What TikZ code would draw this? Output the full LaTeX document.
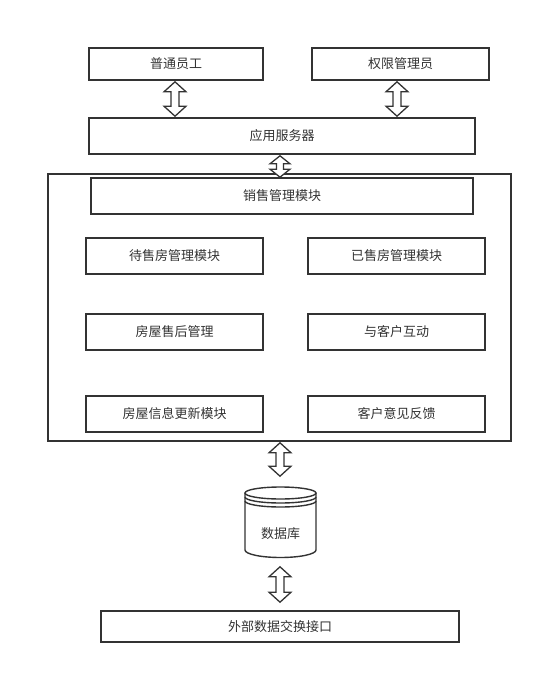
\documentclass[tikz,border=0pt]{standalone}
\usepackage{fontspec}
\newfontfamily\cjkfont{Noto Sans CJK SC}
\usetikzlibrary{calc}
\definecolor{ink}{HTML}{333333}
\tikzset{
  box/.style={draw=ink, line width=1.6pt, rectangle, inner sep=0pt,
    text=ink, font=\cjkfont\fontsize{13}{15}\selectfont},
  frame/.style={draw=ink, line width=1.6pt, rectangle, inner sep=0pt},
  blockarrow/.style={draw=ink, line width=1.3pt, fill=white, line join=miter},
  cyl/.style={draw=ink, line width=1.4pt}
}
% vertical double-headed block arrow between two tip points
% #1 top tip, #2 bottom tip, #3 half head width, #4 half shaft width, #5 head length
\newcommand\vblockarrow[5]{%
  \draw[blockarrow] let \p1=(#1), \p2=(#2) in
    (\x1,\y1) -- (\x1+#3,\y1-#5) -- (\x1+#4,\y1-#5) -- (\x1+#4,\y2+#5)
    -- (\x1+#3,\y2+#5) -- (\x1,\y2) -- (\x1-#3,\y2+#5) -- (\x1-#4,\y2+#5)
    -- (\x1-#4,\y1-#5) -- (\x1-#3,\y1-#5) -- cycle;}
\begin{document}
\begin{tikzpicture}[x=1pt,y=-1pt]
\useasboundingbox (0,0) rectangle (543,674);
% users
\node[box, minimum width=174pt, minimum height=32pt] (staff) at (176,64) {普通员工};
\node[box, minimum width=177pt, minimum height=32pt] (admin) at (400.5,64) {权限管理员};
% application server
\node[box, minimum width=386pt, minimum height=36pt] (server) at (282,136) {应用服务器};
% sales management container
\node[frame, minimum width=463pt, minimum height=267pt] (outer) at (279.5,307.5) {};
\node[box, minimum width=382pt, minimum height=36pt] (sales) at (282,196) {销售管理模块};
\node[box, minimum width=177pt, minimum height=36pt] (m1) at (174.5,256) {待售房管理模块};
\node[box, minimum width=177pt, minimum height=36pt] (m2) at (396.5,256) {已售房管理模块};
\node[box, minimum width=177pt, minimum height=36pt] (m3) at (174.5,332) {房屋售后管理};
\node[box, minimum width=177pt, minimum height=36pt] (m4) at (396.5,332) {与客户互动};
\node[box, minimum width=177pt, minimum height=36pt] (m5) at (174.5,414) {房屋信息更新模块};
\node[box, minimum width=177pt, minimum height=36pt] (m6) at (396.5,414) {客户意见反馈};
% database cylinder
\draw[cyl] (245,493) -- (245,550) arc[start angle=180, end angle=360, x radius=35.5pt, y radius=7.5pt] -- (316,493);
\draw[cyl] (280.5,493) ellipse[x radius=35.5pt, y radius=6pt];
\draw[cyl] (245,497) arc[start angle=180, end angle=360, x radius=35.5pt, y radius=6pt];
\draw[cyl] (245,501) arc[start angle=180, end angle=360, x radius=35.5pt, y radius=6pt];
\node[box, draw=none, minimum width=71pt, minimum height=71pt] (db) at (280.5,522.5) {};
\node[box, draw=none] (dblabel) at (280.5,534) {数据库};
% external interface
\node[box, minimum width=358pt, minimum height=31pt] (ext) at (280,626.5) {外部数据交换接口};
% connectors
\vblockarrow{[xshift=-1pt,yshift=-1pt]staff.south}{[xshift=-7pt,yshift=1pt]server.north}{11pt}{4pt}{10pt}
\vblockarrow{[xshift=-3.5pt,yshift=-1pt]admin.south}{[xshift=115pt,yshift=1pt]server.north}{11pt}{4pt}{10pt}
\vblockarrow{[xshift=-2pt,yshift=-1pt]server.south}{[xshift=-2pt,yshift=0pt]sales.north}{10pt}{3.5pt}{8pt}
\vblockarrow{[xshift=0.5pt,yshift=-1pt]outer.south}{[xshift=-0.5pt,yshift=10pt]db.north}{11pt}{4pt}{10pt}
\vblockarrow{[xshift=-0.5pt,yshift=-8pt]db.south}{[yshift=8pt]ext.north}{11pt}{4pt}{10pt}
\end{tikzpicture}
\end{document}
